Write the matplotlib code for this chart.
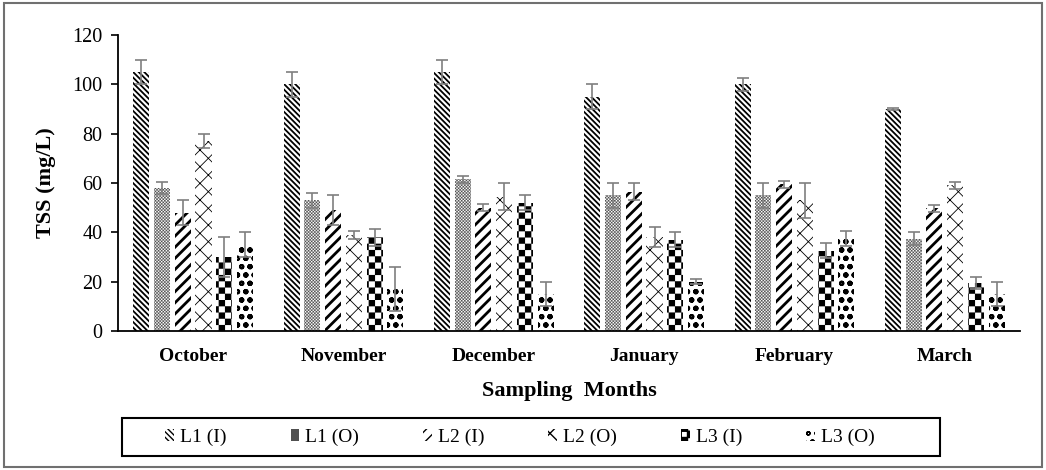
import warnings

import numpy as np
import matplotlib

matplotlib.use("Agg")
import matplotlib.pyplot as plt
from matplotlib import hatch as mhatch
from matplotlib.patches import Rectangle
from matplotlib.path import Path

warnings.filterwarnings("ignore")

# TSS per sampling location, inlet (I) / outlet (O), with standard deviations
months = ["October", "November", "December", "January", "February", "March"]
series_names = ["L1 (I)", "L1 (O)", "L2 (I)", "L2 (O)", "L3 (I)", "L3 (O)"]

l1_in = [105, 100, 105, 95, 100, 90]
l1_in_err = [5, 5, 5, 5, 2.5, 0.5]
l1_out = [58, 53, 61.5, 55, 55, 37.5]
l1_out_err = [2.5, 3, 1.3, 5, 5, 2.5]
l2_in = [48, 49, 50, 56.5, 59.5, 49.7]
l2_in_err = [5, 6, 1.5, 3.5, 1.5, 1.5]
l2_out = [77, 39, 54.5, 38, 53, 59]
l2_out_err = [3, 1.5, 5.5, 4, 7, 1.5]
l3_in = [30, 38, 52, 37, 32.5, 19.5]
l3_in_err = [8, 3.5, 3, 3, 3, 2.5]
l3_out = [35, 17, 15, 20, 37.5, 15]
l3_out_err = [5, 9, 5, 1, 3, 5]


class CheckerHatch(mhatch.HatchPatternBase):
    """Filled checkerboard hatch; each '#' adds 16 cells per tile side."""

    def __init__(self, hatch, density):
        self.n = hatch.count("#") * 16
        self.num_vertices = (self.n * self.n // 2) * 5 if self.n else 0

    def set_vertices_and_codes(self, vertices, codes):
        step = 1.0 / self.n
        k = 0
        for i in range(self.n):
            for j in range(self.n):
                if (i + j) % 2:
                    continue
                x0, y0 = i * step, j * step
                vertices[k:k + 5] = [(x0, y0), (x0 + step, y0), (x0 + step, y0 + step),
                                     (x0, y0 + step), (x0, y0)]
                codes[k:k + 5] = [Path.MOVETO, Path.LINETO, Path.LINETO,
                                  Path.LINETO, Path.CLOSEPOLY]
                k += 5


mhatch._hatch_types.append(CheckerHatch)

plt.rcParams["font.family"] = ["Liberation Serif", "DejaVu Serif"]

fig = plt.figure(figsize=(10.46, 4.70), dpi=100)
ax = fig.add_axes([0.1128, 0.2957, 0.8623, 0.6298])

values = [l1_in, l1_out, l2_in, l2_out, l3_in, l3_out]
errors = [l1_in_err, l1_out_err, l2_in_err, l2_out_err, l3_in_err, l3_out_err]
# (hatch, hatch colour, hatch linewidth)
styles = [
    ("\\" * 6, "black", 1.3),
    ("####", "#505050", 0.05),
    ("///", "black", 2.0),
    ("xx", "black", 0.6),
    ("#", "black", 0.1),
    ("oo", "black", 1.5),
]

x = np.arange(len(months))
pitch = 0.138
width = 0.107
handles = []
for i, (vals, errs, (hatch, hc, hlw)) in enumerate(zip(values, errors, styles)):
    pos = x + (i - 2.5) * pitch
    with plt.rc_context({"hatch.linewidth": hlw}):
        bars = ax.bar(pos, vals, width, color="white", edgecolor=hc, linewidth=0,
                      hatch=hatch, label=series_names[i], zorder=2)
    for b in bars:
        if hasattr(b, "set_hatch_linewidth"):
            b.set_hatch_linewidth(hlw)
    handles.append(bars)
    ax.errorbar(pos, vals, yerr=errs, fmt="none", ecolor="#7f7f7f",
                elinewidth=1.2, capsize=4, capthick=1.2, zorder=3)

ax.set_xlim(-0.5, len(months) - 0.5)
ax.set_ylim(0, 120)
ax.set_yticks(range(0, 121, 20))
ax.set_xticks(x)
ax.set_xticklabels(months, fontsize=14, fontweight="bold")
ax.tick_params(axis="x", length=0, pad=12)
ax.tick_params(axis="y", length=5, width=1.2, labelsize=14.5, pad=6)
for s in ("top", "right"):
    ax.spines[s].set_visible(False)
for s in ("left", "bottom"):
    ax.spines[s].set_linewidth(1.3)

ax.set_ylabel("TSS (mg/L)", fontsize=16, fontweight="bold", labelpad=12)
ax.set_xlabel("Sampling  Months", fontsize=16, fontweight="bold", labelpad=12)

# legend entries sit in a fixed box wider than their content
fig.patches.append(Rectangle((0.1166, 0.0298), 0.782, 0.081, transform=fig.transFigure,
                             fill=False, edgecolor="black", linewidth=1.5))
fig.legend(handles=handles, labels=series_names, ncol=6, loc="center",
           bbox_to_anchor=(0.497, 0.0702), frameon=False, fontsize=14,
           handlelength=0.45, handleheight=0.6, handletextpad=0.3, columnspacing=3.3)

# thin grey frame round the whole figure
fig.patches.append(Rectangle((0.004, 0.006), 0.992, 0.988, transform=fig.transFigure,
                             fill=False, edgecolor="#707070", linewidth=1.5))

fig.savefig("out.png", dpi=100)
